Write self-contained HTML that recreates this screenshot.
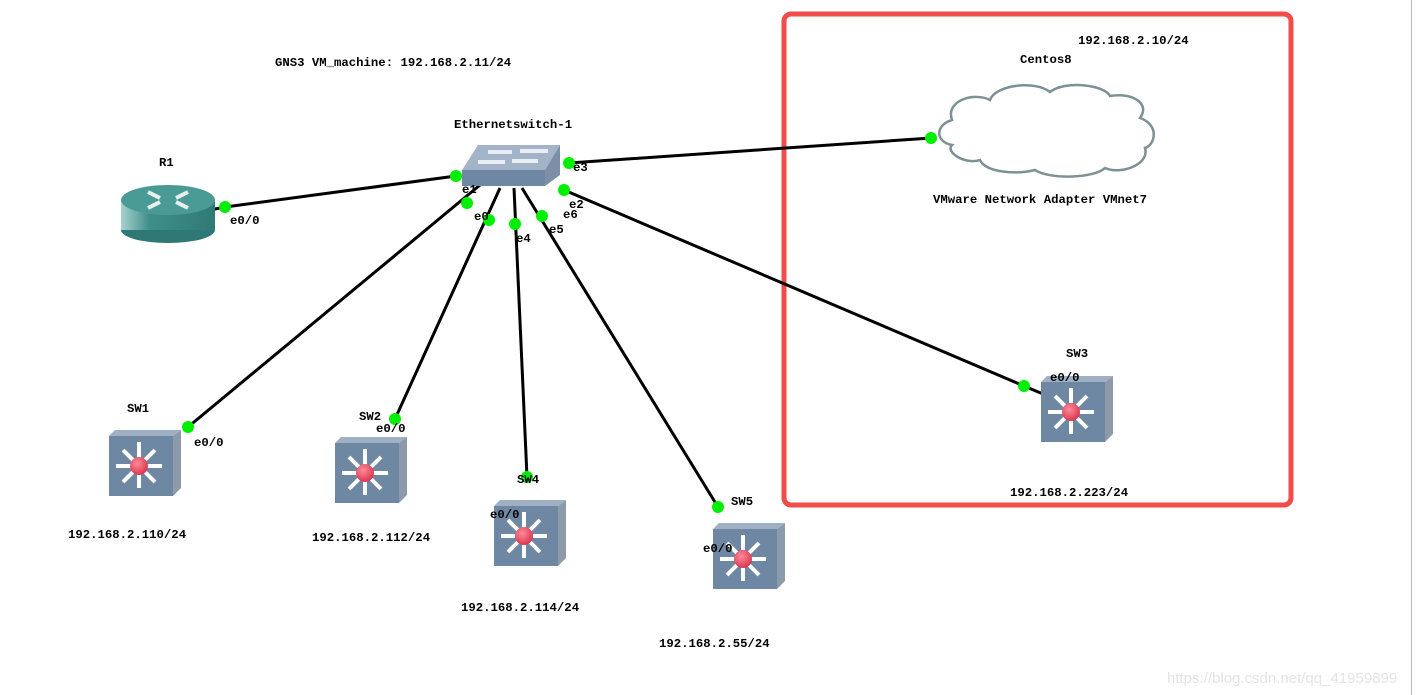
<!DOCTYPE html>
<html><head><meta charset="utf-8"><style>
html,body{margin:0;padding:0;background:#fff;}
svg{display:block;}
text{font-family:"Liberation Mono","Noto Sans CJK SC",monospace;font-weight:bold;font-size:12.3px;fill:#000;}
</style></head><body>
<svg width="1419" height="695" viewBox="0 0 1419 695" xmlns="http://www.w3.org/2000/svg">
<defs>
<radialGradient id="red" cx="0.4" cy="0.35" r="0.7"><stop offset="0" stop-color="#ff8a9a"/><stop offset="1" stop-color="#d8324a"/></radialGradient>
<linearGradient id="rtr" x1="0" x2="1"><stop offset="0" stop-color="#a9d2ce"/><stop offset="0.3" stop-color="#3f8f8a"/><stop offset="1" stop-color="#2f7a76"/></linearGradient>
<g id="sw">
  <polygon points="0,6 6,0 72,0 64,6" fill="#9fb0c4"/>
  <polygon points="64,6 72,0 72,58 64,66" fill="#8d9aaa"/>
  <rect x="0" y="6" width="64" height="60" fill="#6e87a3"/>
  <g stroke="#fff" stroke-width="4" stroke-linecap="butt">
    <line x1="30" y1="12" x2="30" y2="58"/>
    <line x1="7" y1="36" x2="53" y2="36"/>
    <line x1="14" y1="20" x2="46" y2="52"/>
    <line x1="46" y1="20" x2="14" y2="52"/>
  </g>
  <circle cx="30" cy="36" r="9" fill="url(#red)"/>
</g>
</defs>

<rect x="784" y="14" width="507" height="491" rx="7" fill="none" stroke="#f04c4a" stroke-width="5"/>

<g stroke="#000" stroke-width="3">
<line x1="225" y1="207" x2="456" y2="176"/>
<line x1="569" y1="163" x2="931" y2="138"/>
<line x1="564" y1="190" x2="1024" y2="386"/>
<line x1="1024" y1="386" x2="1043" y2="394"/>
<line x1="480" y1="185" x2="188" y2="427"/>
<line x1="500" y1="188" x2="395" y2="419"/>
<line x1="514" y1="188" x2="527" y2="477"/>
<line x1="522" y1="188" x2="718" y2="507"/>
<line x1="210" y1="210" x2="225" y2="207"/>
</g>

<polygon points="462,170 478,145 560,145 545,170" fill="#a3b4c8"/>
<polygon points="545,170 560,145 560,175 545,186" fill="#7d8fa6"/>
<rect x="462" y="170" width="83" height="16" fill="#6e87a3"/>
<g stroke="#e8eef4" stroke-width="4">
<line x1="488" y1="152" x2="512" y2="152"/><line x1="520" y1="151" x2="548" y2="151"/>
<line x1="478" y1="162" x2="505" y2="162"/><line x1="512" y1="161" x2="538" y2="161"/>
</g>

<ellipse cx="168" cy="230" rx="47" ry="13" fill="#2e7975"/>
<rect x="121" y="200" width="94" height="30" fill="url(#rtr)"/>
<ellipse cx="168" cy="200" rx="47" ry="15" fill="#4a9a95"/>
<g stroke="#e8f0f0" stroke-width="4">
<line x1="148" y1="192" x2="160" y2="198"/><line x1="188" y1="192" x2="176" y2="198"/>
<line x1="148" y1="208" x2="160" y2="202"/><line x1="188" y1="208" x2="176" y2="202"/>
</g>

<path d="M952,120 C945,100 975,92 990,100 C995,85 1035,80 1050,92 C1065,80 1105,85 1110,96 C1135,92 1150,105 1140,118 C1160,125 1155,145 1145,148 C1150,165 1120,175 1105,168 C1095,178 1050,180 1035,170 C1015,175 985,172 980,160 C965,165 945,152 952,145 C935,142 935,125 952,120 Z" fill="#fff" stroke="#7c9194" stroke-width="2.5"/>

<use href="#sw" x="109" y="430"/>
<use href="#sw" x="335" y="437"/>
<use href="#sw" x="494" y="500"/>
<use href="#sw" x="713" y="523"/>
<use href="#sw" x="1041" y="376"/>

<g fill="#00ee00">
<circle cx="225" cy="207" r="6"/><circle cx="456" cy="176" r="6"/>
<circle cx="569" cy="163" r="6"/><circle cx="931" cy="138" r="6"/>
<circle cx="564" cy="190" r="6"/><circle cx="1024" cy="386" r="6"/>
<circle cx="467" cy="203" r="6"/><circle cx="188" cy="427" r="6"/>
<circle cx="489" cy="220" r="6"/><circle cx="395" cy="419" r="6"/>
<circle cx="515" cy="224" r="6"/><circle cx="527" cy="477" r="6"/>
<circle cx="542" cy="216" r="6"/><circle cx="718" cy="507" r="6"/>
</g>

<text x="275" y="66">GNS3 VM_machine: 192.168.2.11/24</text>
<text x="454" y="128">Ethernetswitch-1</text>
<text x="159" y="166">R1</text>
<text x="230" y="224">e0/0</text>
<text x="462" y="193">e1</text>
<text x="573" y="171">e3</text>
<text x="569" y="208">e2</text>
<text x="563" y="218">e6</text>
<text x="474" y="220">e0</text>
<text x="516" y="242">e4</text>
<text x="549" y="233">e5</text>
<text x="1078" y="44">192.168.2.10/24</text>
<text x="1020" y="63">Centos8</text>
<text x="933" y="203">VMware Network Adapter VMnet7</text>
<text x="1066" y="357">SW3</text>
<text x="1050" y="381">e0/0</text>
<text x="1010" y="496">192.168.2.223/24</text>
<text x="127" y="412">SW1</text>
<text x="194" y="446">e0/0</text>
<text x="68" y="538">192.168.2.110/24</text>
<text x="359" y="420">SW2</text>
<text x="376" y="432">e0/0</text>
<text x="312" y="541">192.168.2.112/24</text>
<text x="517" y="483">SW4</text>
<text x="490" y="518">e0/0</text>
<text x="461" y="611">192.168.2.114/24</text>
<text x="731" y="505">SW5</text>
<text x="703" y="552">e0/0</text>
<text x="659" y="647">192.168.2.55/24</text>
<text x="1167" y="683" style="font-family:'Liberation Sans',sans-serif;font-weight:normal;font-size:15px;fill:#e4e4e4">https://blog.csdn.net/qq_41959899</text>
<line x1="1411.5" y1="0" x2="1411.5" y2="695" stroke="#b8b8b8" stroke-width="1"/>
</svg>
</body></html>
